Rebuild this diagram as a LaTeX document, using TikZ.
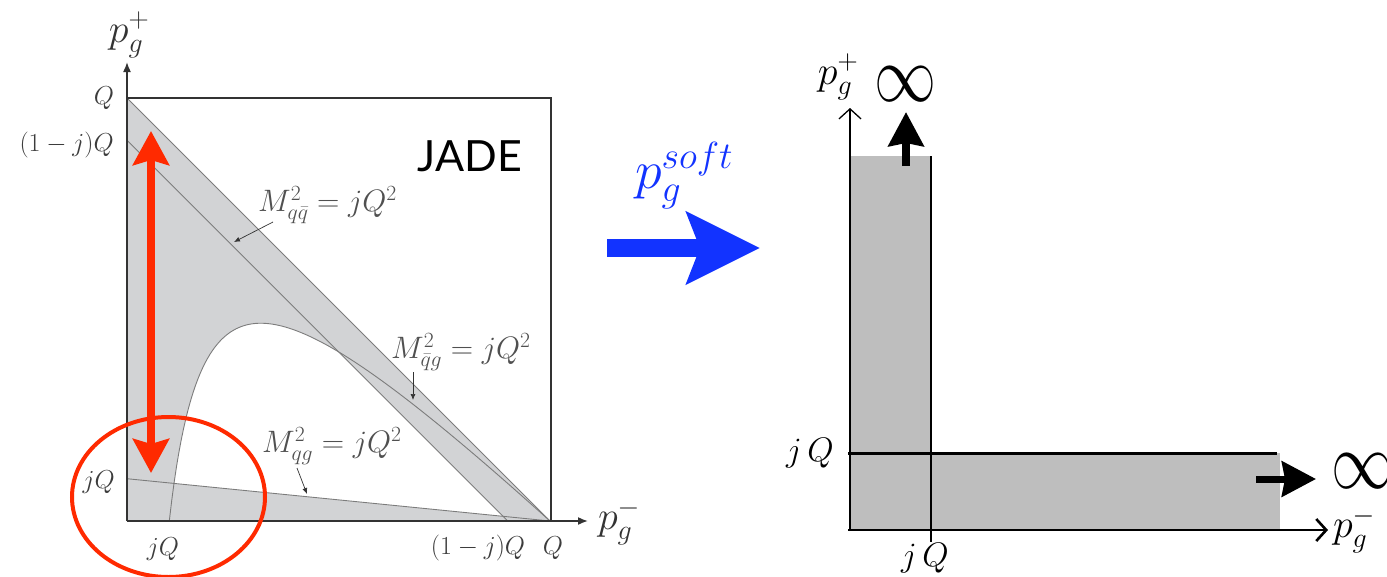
\RequirePackage{fix-cm}
\documentclass[tikz,border=0pt]{standalone}
\usepackage{fontspec}
\newfontfamily\jadefont{Lato}
\usetikzlibrary{arrows.meta}
\definecolor{plotgray}{HTML}{D2D3D5}
\definecolor{curvegray}{HTML}{7C7C7C}
\definecolor{axisdark}{HTML}{333333}
\definecolor{labelgray}{HTML}{3C3C3C}
\definecolor{redarrow}{HTML}{FF2A00}
\definecolor{bluearrow}{HTML}{1233FF}
\definecolor{bargray}{HTML}{BEBEBE}
\newcommand{\fsz}[1]{\fontsize{#1}{#1}\selectfont}
\tikzset{
  lbl/.style={text=labelgray, font={\fsz{26}}, inner sep=0pt},
  mlbl/.style={text=labelgray!90, font={\fsz{31}}, inner sep=0pt},
  axlbl/.style={text=axisdark, font={\fsz{40}}, inner sep=0pt},
  rlbl/.style={text=black, font={\fsz{34}}, inner sep=0pt},
  rax/.style={text=black, font={\fsz{40}}, inner sep=0pt},
  inflbl/.style={text=black, font={\fsz{62}}, inner sep=0pt},
  jadelbl/.style={text=black, font={\jadefont\fsz{43}}, inner sep=0pt},
  softlbl/.style={text=bluearrow, font={\fsz{54}}, inner sep=0pt},
  curveline/.style={draw=curvegray, line width=0.9pt},
  axisline/.style={draw=axisdark, line width=1.6pt},
  axistip/.style={-{Latex[length=10pt,width=8pt]}},
  lblarrow/.style={draw=axisdark, line width=0.7pt, -{Latex[length=6pt,width=5pt]}},
  redarr/.style={draw=redarrow, line width=8pt,
     {Stealth[length=34pt,width=36pt,inset=5pt]}-{Stealth[length=34pt,width=36pt,inset=5pt]}},
  bigarrow/.style={line width=#1, -{Stealth[length=34pt,width=35pt,inset=3pt]}},
  barbtip/.style={-{Straight Barb[length=10pt,width=22pt]}}
}
\begin{document}
\begin{tikzpicture}[x=1pt,y=-1pt]
\useasboundingbox (0,0) rectangle (1387,576);
\clip (0,0) rectangle (1387,576);

% ---------------- left: JADE Dalitz region ----------------
\begin{scope}[shift={(127,521)},yscale=-1]
  \fill[plotgray] (0,0) -- (0,423) -- (423,0) -- cycle;
  \fill[white] plot[domain=47:211.5,samples=80] (\x,{(\x-42.3)*((423-\x)/\x)}) -- (376,4.7) -- cycle;
  \draw[curveline] (0,423) -- (423,0);
  \draw[curveline] (0,380.7) -- (380.7,0);
  \draw[curveline] (0,42.3) -- (423,0);
  \draw[curveline] plot[domain=42.3:423,samples=160] (\x,{(\x-42.3)*((423-\x)/\x)});
  \draw[axisline] (0,423) -- (424,423) -- (424,0);
  \draw[axisline,axistip] (0,0) -- (461,0);
  \draw[axisline,axistip] (0,0) -- (0,459);
\end{scope}

\node[axlbl] (ppl) at (129,35) {$p_g^+$};
\node[axlbl] (pml) at (619,522) {$p_g^-$};
\node[lbl] (qtop) at (104,98) {$Q$};
\node[lbl,anchor=east] (omjq) at (114,145) {$(1-j)Q$};
\node[lbl,anchor=east] (jqleft) at (115,482) {$jQ$};
\node[lbl] (jqbot) at (163,549) {$jQ$};
\node[lbl] (omjqbot) at (478,548) {$(1-j)Q$};
\node[lbl] (qbot) at (553,548) {$Q$};
\node[jadelbl] (jade) at (470,156) {JADE};

\node[mlbl,anchor=west] (mqq) at (258,205) {$M^2_{q\bar q}=jQ^2$};
\node[mlbl,anchor=west] (mqbg) at (391,352) {$M^2_{\bar q g}=jQ^2$};
\node[mlbl,anchor=west] (mqg) at (262,446) {$M^2_{qg}=jQ^2$};
\coordinate (aqqs) at (273,222);
\coordinate (aqqe) at (234,242);
\coordinate (aqbgs) at (413,372);
\coordinate (aqbge) at (413,400);
\coordinate (aqgs) at (297,468);
\coordinate (aqge) at (307,494);
\draw[lblarrow] (aqqs) -- (aqqe);
\draw[lblarrow] (aqbgs) -- (aqbge);
\draw[lblarrow] (aqgs) -- (aqge);

% red double arrow and ellipse
\coordinate (rtop) at (151,131);
\coordinate (rbot) at (151,473);
\draw[redarr] (rbot) -- (rtop);
\draw[draw=redarrow, line width=4pt] (168.5,497) ellipse [x radius=96.5pt, y radius=80pt];

% ---------------- middle: blue arrow ----------------
\node[softlbl] (soft) at (684,176) {$p_g^{soft}$};
\coordinate (bstart) at (607,248);
\coordinate (bend) at (760,248);
\draw[draw=bluearrow, line width=18pt, -{Stealth[length=73pt,width=71pt,inset=13pt]}] (bstart) -- (bend);

% ---------------- right: soft limit ----------------
\fill[bargray] (850,156) rectangle (931,530);
\fill[bargray] (850,453) rectangle (1280,530);
\draw[line width=1.5pt] (931,156) -- (931,542);
\draw[line width=3.5pt] (848,453.5) -- (1277,453.5);
\draw[line width=1.3pt, barbtip] (850,531) -- (850,108);
\draw[line width=2.6pt, barbtip] (848,530) -- (1328,530);

\coordinate (uas) at (906,166);
\coordinate (uae) at (906,112);
\draw[bigarrow=8pt] (uas) -- (uae);
\coordinate (ras) at (1256,479);
\coordinate (rae) at (1316,479);
\draw[bigarrow=7pt] (ras) -- (rae);

\node[rax] (ppr) at (838,77) {$p_g^+$};
\node[rax] (pmr) at (1354,530) {$p_g^-$};
\node[inflbl] (inftop) at (905,84) {\scalebox{1}[1.3]{$\infty$}};
\node[inflbl] (infright) at (1362,471) {\scalebox{1}[1.3]{$\infty$}};
\node[rlbl] (jqr) at (810,453) {$j\,Q$};
\node[rlbl] (jqrb) at (925,558) {$j\,Q$};
\end{tikzpicture}
\end{document}
